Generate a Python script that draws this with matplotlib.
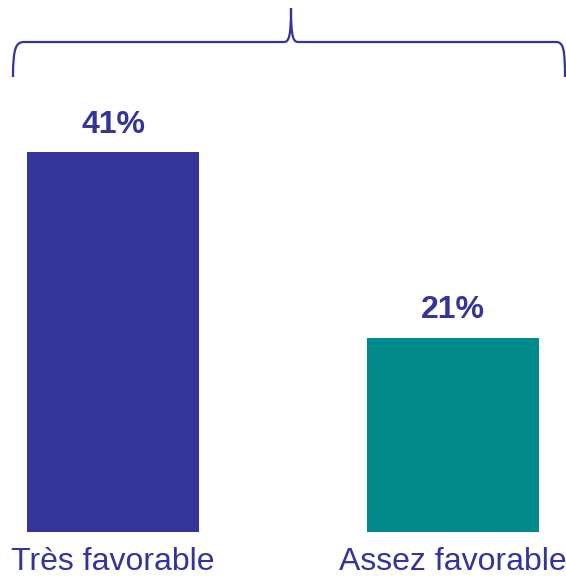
import matplotlib.pyplot as plt
from matplotlib.path import Path
from matplotlib.patches import PathPatch

categories = ['Très favorable', 'Assez favorable']
values = [41, 21]
colors = ['#35349a', '#008b8a']
text_color = '#35349a'

plt.rcParams['font.family'] = ['Liberation Sans', 'DejaVu Sans']

fig = plt.figure(figsize=(5.66, 5.78), dpi=100)
# axes spans the full width, baseline at the bar bottoms
ax = fig.add_axes([0, 46 / 578, 1, 532 / 578])

x = range(len(categories))
bars = ax.bar(x, values, width=0.507, color=colors)
ax.set_xlim(-0.333, 1.334)
ax.set_ylim(0, 57.45)

for b, v in zip(bars, values):
    ax.annotate(f'{v}%', (b.get_x() + b.get_width() / 2, v),
                xytext=(0, 9), textcoords='offset points',
                ha='center', va='bottom', fontsize=23, fontweight='bold',
                color=text_color)

ax.set_xticks(list(x))
ax.set_xticklabels(categories, fontsize=23, color=text_color)
ax.tick_params(axis='x', length=0, pad=11)
ax.set_yticks([])
for s in ax.spines.values():
    s.set_visible(False)

# curly brace above the bars, in figure pixel-fraction coords
W, H = 566.0, 578.0
pts = [(13, 77), (13, 48), (16, 42), (24, 42),
       (284, 42),
       (289, 42), (291, 36), (291, 8),
       (291, 36), (293, 42), (298, 42),
       (556, 42),
       (563, 42), (565, 48), (565, 77)]
codes = [Path.MOVETO, Path.CURVE4, Path.CURVE4, Path.CURVE4,
         Path.LINETO,
         Path.CURVE4, Path.CURVE4, Path.CURVE4,
         Path.CURVE4, Path.CURVE4, Path.CURVE4,
         Path.LINETO,
         Path.CURVE4, Path.CURVE4, Path.CURVE4]
verts = [(px / W, 1 - py / H) for px, py in pts]
brace = PathPatch(Path(verts, codes), transform=fig.transFigure,
                  fill=False, edgecolor=text_color, lw=1.6)
fig.patches.append(brace)

fig.savefig('out.png', dpi=100)
